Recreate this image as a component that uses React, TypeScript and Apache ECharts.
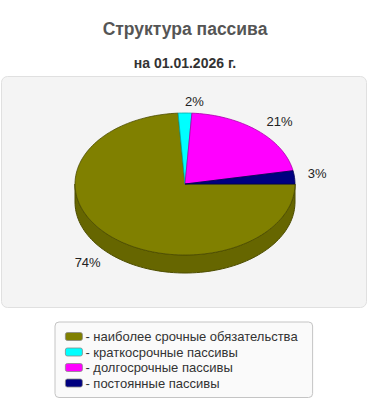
import React, { useEffect, useRef } from "react";
import * as echarts from "echarts";

const titleText = "Структура пассива";
const subtitleText = "на 01.01.2026 г.";
const categories = [
  "наиболее срочные обязательства",
  "краткосрочные пассивы",
  "долгосрочные пассивы",
  "постоянные пассивы",
];
const values = [74, 2, 21, 3];
const colors = ["#808000", "#00ffff", "#ff00ff", "#000080"];
const sideColors = ["#666600", "#00cccc", "#cc00cc", "#000066"];
const edgeColors = ["#4d4d00", "#00aaaa", "#aa00aa", "#000050"];

const FONT = "'Liberation Sans', Arial, sans-serif";
const CX = 185;
const CY = 184;
const RX = 110;
const RY = 71;
const DEPTH = 18;

const total = values.reduce((a, b) => a + b, 0);

function arcPoints(a0: number, a1: number, dy: number) {
  const pts: number[][] = [];
  const n = Math.max(2, Math.ceil(((a1 - a0) * 180) / Math.PI / 2));
  for (let k = 0; k <= n; k++) {
    const a = a0 + ((a1 - a0) * k) / n;
    pts.push([CX + RX * Math.cos(a), CY + RY * Math.sin(a) + dy]);
  }
  return pts;
}

function makeRender(i: number) {
  return (params: any, api: any) => {
    const v = api.value(0);
    let start = 0;
    for (let j = 0; j < i; j++) start += values[j];
    const a0 = (start / total) * Math.PI * 2;
    const a1 = ((start + v) / total) * Math.PI * 2;
    const children: any[] = [];
    const s0 = Math.max(a0, 0);
    const s1 = Math.min(a1, Math.PI);
    if (s1 > s0) {
      const top = arcPoints(s0, s1, 0);
      const bottom = arcPoints(s0, s1, DEPTH).reverse();
      children.push({
        type: "polygon",
        shape: { points: top.concat(bottom) },
        style: { fill: sideColors[i], stroke: edgeColors[i], lineWidth: 1 },
      });
    }
    children.push({
      type: "polygon",
      shape: { points: [[CX, CY]].concat(arcPoints(a0, a1, 0)) },
      style: { fill: colors[i], stroke: edgeColors[i], lineWidth: 0.8 },
    });
    const mid = (a0 + a1) / 2;
    const c = Math.cos(mid);
    const s = Math.sin(mid);
    const k = 1.12;
    const lx = CX + RX * k * c;
    const ly = CY + RY * k * s + (s > 0 ? DEPTH + 3 : -3);
    children.push({
      type: "text",
      x: lx,
      y: ly,
      style: {
        text: Math.round((v / total) * 100) + "%",
        fill: "#222",
        font: `13px ${FONT}`,
        align: c >= -0.05 ? "left" : "right",
        verticalAlign: "middle",
      },
    });
    return { type: "group", children };
  };
}

export default function App() {
  const ref = useRef<HTMLDivElement>(null);
  useEffect(() => {
    if (!ref.current) return;
    const chart = echarts.init(ref.current, undefined, { renderer: "svg" });
    chart.setOption({
      animation: false,
      backgroundColor: "#ffffff",
      title: [
        {
          text: titleText,
          left: "center",
          top: 15,
          textStyle: { fontSize: 17.5, fontWeight: "bold", color: "#555", fontFamily: FONT },
        },
        {
          text: subtitleText,
          left: "center",
          top: 51,
          textStyle: { fontSize: 14, fontWeight: "bold", color: "#333", fontFamily: FONT },
        },
      ],
      graphic: [
        {
          type: "rect",
          z: -10,
          silent: true,
          shape: { x: 1.5, y: 76.5, width: 365, height: 231, r: 6 },
          style: { fill: "#f4f4f4", stroke: "#e0e0e0", lineWidth: 1 },
        },
      ],
      legend: {
        orient: "vertical",
        left: 55,
        top: 322,
        data: categories,
        icon: "roundRect",
        itemWidth: 17,
        itemHeight: 8,
        itemGap: 2.5,
        padding: [8, 15, 8, 10],
        backgroundColor: "#fafafa",
        borderColor: "#c4c4c4",
        borderWidth: 1,
        borderRadius: 4,
        selectedMode: false,
        formatter: (name: string) => "- " + name,
        itemStyle: { borderColor: "#888", borderWidth: 0.8 },
        textStyle: { fontSize: 13, color: "#333", fontFamily: FONT, lineHeight: 13, padding: [0, 0, 0, -2] },
      },
      series: categories.map((name, i) => ({
        type: "custom",
        name,
        coordinateSystem: "none",
        itemStyle: { color: colors[i] },
        data: [[values[i]]],
        renderItem: makeRender(i),
      })),
    });
    return () => chart.dispose();
  }, []);
  return (
    <div
      ref={ref}
      style={{ position: "fixed", left: 0, top: 0, width: 370, height: 400 }}
    />
  );
}
